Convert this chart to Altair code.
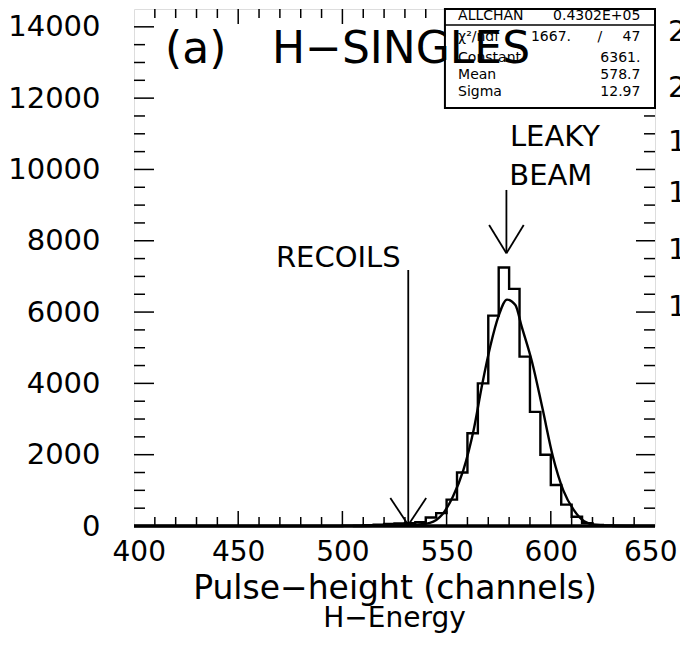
import altair as alt
import pandas as pd

# ---------------- data ----------------
# 5-channel histogram bins (left edges) and counts
bin_left = list(range(400, 650, 5))
counts = ([0] * 20 +
          [5, 10, 20, 35, 55, 70, 80, 110, 240, 360, 740, 1500, 2600,
           4000, 5900, 7250, 6650, 4750, 3200, 2000, 1150, 600, 260, 80, 30, 10] +
          [0] * 4)

# Gaussian fit curve
fit_x = [505, 515, 525, 535, 542, 548, 553, 558, 563, 567, 571, 575, 579,
         583, 586, 591, 596, 601, 606, 611, 616, 621, 630, 640]
fit_y = [0, 5, 15, 40, 90, 330, 820, 1560, 2700, 3950, 5050, 5900, 6350,
         6200, 5600, 4600, 3300, 1950, 1000, 450, 130, 35, 5, 0]

x_labels = [400, 450, 500, 550, 600, 650]
y_labels = [0, 2000, 4000, 6000, 8000, 10000, 12000, 14000]

stat_names = ["ALLCHAN", "χ²/ndf", "Constant", "Mean", "Sigma"]
stat_values = ["0.4302E+05", "47", "6361.", "578.7", "12.97"]
stat_extra = ["1667."]

title_a = "(a)"
title_main = "H−SINGLES"
recoil_label = "RECOILS"
beam_label = ["LEAKY", "BEAM"]
recoil_channel = 531.6
beam_channel = 578.7
side_digits = ["2", "2", "1", "1", "1", "1"]

# ---------------- layout ----------------
W, H = 521, 517
FONT = "DejaVu Sans"
xs = alt.Scale(domain=[400, 650], nice=False, zero=False)
ys = alt.Scale(domain=[0, 14500], nice=False, zero=True)

x_axis = alt.Axis(values=x_labels, format="d", title="Pulse−height (channels)",
                  labelFlush=True, labelFlushOffset=22)
y_axis = alt.Axis(values=y_labels, format="d", title="")


def X(field):
    return alt.X(field, scale=xs, title="Pulse−height (channels)")


def Y(field):
    return alt.Y(field, scale=ys, title="")


hist_df = pd.DataFrame({"x": bin_left + [650], "y": counts + [0]})
hist = alt.Chart(hist_df).mark_line(interpolate="step-after", color="black",
                                    strokeWidth=2.4).encode(
    x=alt.X("x:Q", scale=xs, axis=x_axis),
    y=alt.Y("y:Q", scale=ys, axis=y_axis))

fit_df = pd.DataFrame({"x": fit_x, "y": fit_y})
fit = alt.Chart(fit_df).mark_line(interpolate="monotone", color="black",
                                  strokeWidth=2.4).encode(x=X("x:Q"), y=Y("y:Q"))

# stats box
box_df = pd.DataFrame({"x": [549.2], "x2": [650], "y": [11725], "y2": [14500]})
box = alt.Chart(box_df).mark_rect(fill="white", stroke="black", strokeWidth=2).encode(
    x=X("x:Q"), x2="x2:Q", y=Y("y:Q"), y2="y2:Q")
box_line_df = pd.DataFrame({"x": [549.2], "x2": [650], "y": [14050]})
box_line = alt.Chart(box_line_df).mark_rule(color="black", strokeWidth=1.5).encode(
    x=X("x:Q"), x2="x2:Q", y=Y("y:Q"))

row_y = [14306, 13717, 13128, 12651, 12174]
names_df = pd.DataFrame({"x": [555.5] * 5, "y": row_y, "t": stat_names})
names = alt.Chart(names_df).mark_text(align="left", baseline="middle", font=FONT,
                                      fontSize=14, color="black").encode(
    x=X("x:Q"), y=Y("y:Q"), text="t:N")
vals_df = pd.DataFrame({"x": [643.0] * 5 + [609.7], "y": row_y + [row_y[1]],
                        "t": stat_values + stat_extra})
vals = alt.Chart(vals_df).mark_text(align="right", baseline="middle", font=FONT,
                                    fontSize=14, color="black").encode(
    x=X("x:Q"), y=Y("y:Q"), text="t:N")
slash_df = pd.DataFrame({"x": [623.6], "y": [row_y[1]], "t": ["/"]})
slash = alt.Chart(slash_df).mark_text(align="center", baseline="middle", font=FONT,
                                      fontSize=14, color="black").encode(
    x=X("x:Q"), y=Y("y:Q"), text="t:N")


# inner ticks
def xticks(vals_, length, top):
    df = pd.DataFrame({"x": vals_})
    if top:
        yv, y2v = 0, length
    else:
        yv, y2v = H, H - length
    return alt.Chart(df).mark_rule(color="black", strokeWidth=1.5).encode(
        x=X("x:Q"), y=alt.value(yv), y2=alt.value(y2v))


def yticks(vals_, length, right):
    df = pd.DataFrame({"y": vals_})
    if right:
        xv, x2v = W, W - length
    else:
        xv, x2v = 0, length
    return alt.Chart(df).mark_rule(color="black", strokeWidth=1.5).encode(
        y=Y("y:Q"), x=alt.value(xv), x2=alt.value(x2v))


x_minor = [v for v in range(410, 650, 10) if v % 50]
x_major = [450, 500, 550, 600]
y_minor = [v for v in range(500, 14500, 500) if v % 2000]
y_major = [2000, 4000, 6000, 8000, 10000, 12000, 14000]

ticks = [xticks(x_minor, 9, False), xticks(x_major, 15, False),
         xticks(x_minor, 9, True), xticks(x_major, 15, True),
         yticks(y_minor, 11, False), yticks(y_major, 20, False),
         yticks(y_minor, 11, True), yticks(y_major, 19, True)]

bottom_df = pd.DataFrame({"x": [400], "x2": [650], "y": [0]})
bottom = alt.Chart(bottom_df).mark_rule(color="black", strokeWidth=3.5).encode(
    x=X("x:Q"), x2="x2:Q", y=Y("y:Q"))

# arrows
arrow_df = pd.DataFrame({
    "x":  [beam_channel, beam_channel - 8.3, beam_channel + 8.3,
           recoil_channel, recoil_channel - 8.6, recoil_channel + 8.6],
    "y":  [9425, 8443, 8443, 7181, 785, 785],
    "x2": [beam_channel, beam_channel, beam_channel,
           recoil_channel, recoil_channel, recoil_channel],
    "y2": [7649, 7649, 7649, 28, 28, 28],
})
arrows = alt.Chart(arrow_df).mark_rule(color="black", strokeWidth=1.8).encode(
    x=X("x:Q"), x2="x2:Q", y=Y("y:Q"), y2="y2:Q")

ann_df = pd.DataFrame({"x": [498.0, 602.0, 600.0], "y": [7517, 10912, 9818],
                       "t": [recoil_label] + beam_label})
ann = alt.Chart(ann_df).mark_text(align="center", baseline="middle", font=FONT,
                                  fontSize=29, color="black").encode(
    x=X("x:Q"), y=Y("y:Q"), text="t:N")

ttl_df = pd.DataFrame({"x": [414.9, 466.2], "y": [13350, 13350], "t": [title_a, title_main]})
ttl = alt.Chart(ttl_df).mark_text(align="left", baseline="middle", font=FONT,
                                  fontSize=44, color="black").encode(
    x=X("x:Q"), y=Y("y:Q"), text="t:N")

side_df = pd.DataFrame({"x": [656.2] * 6,
                        "y": [13857, 12286, 10771, 9341, 7742, 6143],
                        "t": side_digits})
side = alt.Chart(side_df).mark_text(align="left", baseline="middle", font=FONT,
                                    fontSize=29, color="black").encode(
    x=X("x:Q"), y=Y("y:Q"), text="t:N")

chart = alt.layer(hist, fit, *ticks, box, box_line, names, vals, slash, bottom,
                  arrows, ann, ttl, side).properties(
    width=W, height=H,
    title=alt.TitleParams("H−Energy", orient="bottom", anchor="middle", font=FONT,
                          fontSize=28, fontWeight="normal", color="black", offset=0),
    autosize=alt.AutoSizeParams(type="none"),
    padding={"left": 126, "top": 1, "right": 25, "bottom": 112},
).configure_view(stroke="black", strokeWidth=2.5).configure(
    background="white"
).configure_axis(
    ticks=False, tickSize=0, domain=False, grid=False, labelFont=FONT,
    labelFontSize=29, labelColor="black", titleFont=FONT, titleFontSize=33,
    titleFontWeight="normal", titleColor="black"
).configure_axisX(labelPadding=12, titlePadding=6, labelFontSize=28).configure_axisY(labelPadding=34)

chart.save("out.html", embed_options={"renderer": "svg", "actions": False})
